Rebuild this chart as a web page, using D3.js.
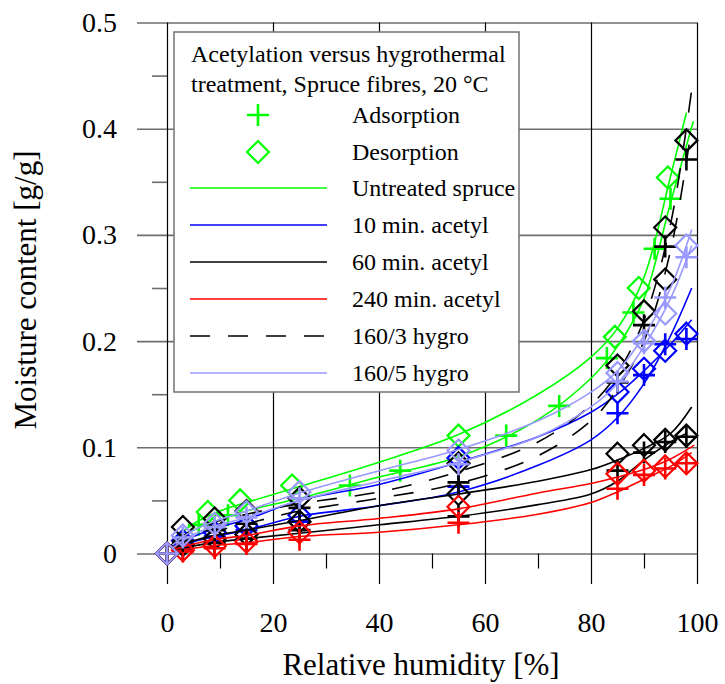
<!DOCTYPE html>
<html>
<head>
<meta charset="utf-8">
<script src="https://cdn.jsdelivr.net/npm/d3@7"></script>
<style>
  html, body { margin: 0; padding: 0; background: #fff; }
  svg { display: block; font-family: "Liberation Serif", "Times New Roman", serif; }
</style>
</head>
<body>
<svg id="chart" width="725" height="684"></svg>
<script>
// ---- Axis ticks ----
const xMajorTicks = [0, 20, 40, 60, 80, 100];
const xMinorTicks = [10, 30, 50, 70, 90];
const yMajorTicks = [0, 0.1, 0.2, 0.3, 0.4, 0.5];
const yMinorTicks = [0.05, 0.15, 0.25, 0.35, 0.45];

// ---- Measured points (RH %, moisture content g/g) ----
const rhTreated = [0, 3, 9, 15, 25, 55, 85, 90, 94, 98];

const untreatedAdsRH = [0, 6, 11.5, 34.5, 44, 64, 74, 83, 88, 92, 95];
const untreatedAds   = [0, 0.027, 0.036, 0.064, 0.078, 0.111, 0.139, 0.184, 0.227, 0.287, 0.334];
const untreatedDesRH = [7.7, 13.8, 23.6, 55, 84.5, 89, 94.5];
const untreatedDes   = [0.039, 0.050, 0.064, 0.111, 0.204, 0.250, 0.354];

const acetyl10Ads  = [0, 0.008, 0.016, 0.022, 0.030, 0.063, 0.132, 0.168, 0.197, 0.202];
const acetyl10Des  = [0, 0.012, 0.020, 0.026, 0.036, 0.090, 0.152, 0.174, 0.191, 0.207];
const acetyl60Ads  = [0, 0.005, 0.010, 0.014, 0.022, 0.035, 0.078, 0.095, 0.105, 0.110];
const acetyl60Des  = [0, 0.008, 0.014, 0.018, 0.030, 0.056, 0.094, 0.102, 0.107, 0.111];
const acetyl240Ads = [0, 0.002, 0.005, 0.009, 0.013, 0.029, 0.061, 0.074, 0.080, 0.085];
const acetyl240Des = [0, 0.003, 0.007, 0.011, 0.020, 0.044, 0.075, 0.078, 0.082, 0.085];
const hygro3Ads    = [0, 0.012, 0.022, 0.028, 0.043, 0.067, 0.161, 0.215, 0.289, 0.371];
const hygro3Des    = [0, 0.025, 0.033, 0.040, 0.052, 0.085, 0.177, 0.228, 0.307, 0.389];
const hygro3DesExtraRH = [94];
const hygro3DesExtra   = [0.258];
const hygro5Ads    = [0, 0.015, 0.025, 0.034, 0.052, 0.084, 0.162, 0.198, 0.241, 0.279];
const hygro5Des    = [0, 0.017, 0.028, 0.039, 0.058, 0.097, 0.170, 0.200, 0.226, 0.290];

// ---- Fitted isotherm curves ----
const rhFit = [1, 5, 10, 15, 25, 40, 55, 70, 80, 85, 90, 95];
const untreatedFitAds = [0.008, 0.022, 0.032, 0.040, 0.052, 0.072, 0.091, 0.126, 0.165, 0.195, 0.240, 0.330];
const untreatedFitDes = [0.012, 0.028, 0.040, 0.048, 0.063, 0.086, 0.112, 0.150, 0.185, 0.212, 0.260, 0.355];
const acetyl10FitAds  = [0.004, 0.011, 0.017, 0.022, 0.035, 0.045, 0.058, 0.083, 0.107, 0.128, 0.160, 0.205];
const acetyl10FitDes  = [0.006, 0.016, 0.025, 0.032, 0.050, 0.065, 0.086, 0.110, 0.133, 0.150, 0.172, 0.197];
const acetyl60FitAds  = [0.002, 0.007, 0.011, 0.014, 0.019, 0.027, 0.035, 0.046, 0.056, 0.068, 0.088, 0.105];
const acetyl60FitDes  = [0.004, 0.012, 0.018, 0.022, 0.031, 0.045, 0.056, 0.068, 0.079, 0.088, 0.099, 0.113];
const acetyl240FitAds = [0.002, 0.005, 0.008, 0.010, 0.016, 0.020, 0.027, 0.037, 0.048, 0.058, 0.070, 0.082];
const acetyl240FitDes = [0.003, 0.009, 0.014, 0.017, 0.026, 0.033, 0.042, 0.057, 0.066, 0.072, 0.079, 0.089];
const hygro3FitAds    = [0.006, 0.014, 0.022, 0.028, 0.040, 0.052, 0.066, 0.092, 0.125, 0.155, 0.200, 0.285];
const hygro3FitDes    = [0.010, 0.022, 0.031, 0.037, 0.047, 0.058, 0.077, 0.105, 0.140, 0.170, 0.220, 0.310];
const hygro5FitAds    = [0.005, 0.018, 0.027, 0.034, 0.050, 0.068, 0.086, 0.110, 0.138, 0.160, 0.195, 0.240];
const hygro5FitDes    = [0.008, 0.022, 0.032, 0.040, 0.057, 0.078, 0.098, 0.125, 0.152, 0.172, 0.205, 0.250];
// end points of each fitted curve near saturation [RH, MC]
const untreatedEndAds = [99.3, 0.407], untreatedEndDes = [98, 0.415];
const acetyl10EndAds  = [99, 0.250],  acetyl10EndDes  = [99, 0.220];
const acetyl60EndAds  = [98, 0.113],  acetyl60EndDes  = [99, 0.138];
const acetyl240EndAds = [99, 0.095],  acetyl240EndDes = [99.5, 0.102];
const hygro3EndAds    = [98.5, 0.385], hygro3EndDes   = [99, 0.437];
const hygro5EndAds    = [99, 0.290],  hygro5EndDes    = [99, 0.305];

// ---- Legend text ----
const legendTitle = ["Acetylation versus hygrothermal", "treatment, Spruce fibres, 20 °C"];
const seriesNames = ["Untreated spruce", "10 min. acetyl", "60 min. acetyl", "240 min. acetyl", "160/3 hygro", "160/5 hygro"];
const seriesColors = ["#00ff00", "#0000ff", "#000000", "#ff0000", "#000000", "#9999ff"];
const seriesDash = [null, null, null, null, "20,18", null];

// ---- Layout ----
const svg = d3.select("#chart");
const x = d3.scaleLinear().domain([0, 100]).range([167, 697]);
const y = d3.scaleLinear().domain([0, 0.5]).range([553.5, 22.5]);
const gridLeft = 137, gridBottom = 584;
const serif = "Liberation Serif, Times New Roman, serif";

// Horizontal gridlines with y labels
const yAxis = svg.append("g")
  .attr("transform", `translate(${gridLeft},0)`)
  .call(d3.axisLeft(y).tickValues(yMajorTicks)
    .tickSize(-(x(100) - gridLeft)).tickPadding(20)
    .tickFormat(d => d === 0 ? "0" : d3.format(".1f")(d)));
yAxis.select(".domain").remove();
yAxis.selectAll("line").attr("stroke", "#6e6e6e").attr("stroke-width", 1.6);
yAxis.selectAll("text").attr("font-size", 28).attr("fill", "#000").attr("font-family", serif);

// Minor y ticks
const yMinor = svg.append("g")
  .attr("transform", `translate(${x(0)},0)`)
  .call(d3.axisLeft(y).tickValues(yMinorTicks).tickSize(15).tickFormat(""));
yMinor.select(".domain").remove();
yMinor.selectAll("line").attr("stroke", "#6e6e6e").attr("stroke-width", 1.6);

// Vertical gridlines with x labels
const xAxis = svg.append("g")
  .attr("transform", `translate(0,${gridBottom})`)
  .call(d3.axisBottom(x).tickValues(xMajorTicks)
    .tickSize(-(gridBottom - y(0.5))).tickPadding(28));
xAxis.select(".domain").remove();
xAxis.selectAll("line").attr("stroke", "#000").attr("stroke-width", 1.2);
xAxis.selectAll("text").attr("font-size", 28).attr("fill", "#000").attr("font-family", serif);

// Minor x ticks
const xMinor = svg.append("g")
  .attr("transform", `translate(0,${y(0)})`)
  .call(d3.axisBottom(x).tickValues(xMinorTicks).tickSize(15).tickFormat(""));
xMinor.select(".domain").remove();
xMinor.selectAll("line").attr("stroke", "#000").attr("stroke-width", 1.2);

// Axis titles
svg.append("text")
  .attr("x", 421).attr("y", 675)
  .attr("text-anchor", "middle").attr("font-size", 31)
  .text("Relative humidity [%]");
svg.append("text")
  .attr("transform", "translate(36,290) rotate(-90)")
  .attr("text-anchor", "middle").attr("font-size", 31)
  .text("Moisture content [g/g]");

// ---- Series ----
const zip = (xs, ys) => xs.map((v, i) => [v, ys[i]]);
const series = [
  { fits: [[untreatedFitAds, untreatedEndAds], [untreatedFitDes, untreatedEndDes]],
    ads: zip(untreatedAdsRH, untreatedAds), des: zip(untreatedDesRH, untreatedDes) },
  { fits: [[acetyl10FitAds, acetyl10EndAds], [acetyl10FitDes, acetyl10EndDes]],
    ads: zip(rhTreated, acetyl10Ads), des: zip(rhTreated, acetyl10Des) },
  { fits: [[acetyl60FitAds, acetyl60EndAds], [acetyl60FitDes, acetyl60EndDes]],
    ads: zip(rhTreated, acetyl60Ads), des: zip(rhTreated, acetyl60Des) },
  { fits: [[acetyl240FitAds, acetyl240EndAds], [acetyl240FitDes, acetyl240EndDes]],
    ads: zip(rhTreated, acetyl240Ads), des: zip(rhTreated, acetyl240Des) },
  { fits: [[hygro3FitAds, hygro3EndAds], [hygro3FitDes, hygro3EndDes]],
    ads: zip(rhTreated, hygro3Ads),
    des: zip(rhTreated, hygro3Des).concat(zip(hygro3DesExtraRH, hygro3DesExtra)) },
  { fits: [[hygro5FitAds, hygro5EndAds], [hygro5FitDes, hygro5EndDes]],
    ads: zip(rhTreated, hygro5Ads), des: zip(rhTreated, hygro5Des) }
];

const line = d3.line().x(d => x(d[0])).y(d => y(d[1])).curve(d3.curveCatmullRom.alpha(0.5));
const plusPath = "M-11,0H11M0,-11V11";
const diamondPath = "M0,-11L11,0L0,11L-11,0Z";

const plot = svg.append("g");
series.forEach((s, i) => {
  const g = plot.append("g");
  s.fits.forEach(([vals, end]) => {
    g.append("path")
      .attr("d", line(zip(rhFit, vals).concat([end])))
      .attr("fill", "none")
      .attr("stroke", seriesColors[i])
      .attr("stroke-width", 1.6)
      .attr("stroke-dasharray", seriesDash[i]);
  });
  g.selectAll(".ads").data(s.ads).join("path")
    .attr("transform", d => `translate(${x(d[0])},${y(d[1])})`)
    .attr("d", plusPath).attr("fill", "none")
    .attr("stroke", seriesColors[i]).attr("stroke-width", 2.6);
  g.selectAll(".des").data(s.des).join("path")
    .attr("transform", d => `translate(${x(d[0])},${y(d[1])})`)
    .attr("d", diamondPath).attr("fill", "none")
    .attr("stroke", seriesColors[i]).attr("stroke-width", 2.2);
});

// ---- Legend ----
const legend = svg.append("g");
legend.append("rect")
  .attr("x", 174).attr("y", 32).attr("width", 345).attr("height", 360)
  .attr("fill", "#fff").attr("stroke", "#7a7a7a").attr("stroke-width", 1.6);
legendTitle.forEach((t, i) => {
  legend.append("text").attr("x", 191).attr("y", 62 + i * 29.5)
    .attr("font-size", 24).text(t);
});
legend.append("path").attr("transform", "translate(258,115)")
  .attr("d", plusPath).attr("fill", "none").attr("stroke", seriesColors[0]).attr("stroke-width", 2.6);
legend.append("text").attr("x", 352).attr("y", 123).attr("font-size", 24).text("Adsorption");
legend.append("path").attr("transform", "translate(258,152)")
  .attr("d", diamondPath).attr("fill", "none").attr("stroke", seriesColors[0]).attr("stroke-width", 2.2);
legend.append("text").attr("x", 352).attr("y", 160).attr("font-size", 24).text("Desorption");
seriesNames.forEach((name, i) => {
  const cy = 188 + i * 37;
  legend.append("line").attr("x1", 190).attr("x2", 327).attr("y1", cy).attr("y2", cy)
    .attr("stroke", seriesColors[i]).attr("stroke-width", 1.6)
    .attr("stroke-dasharray", seriesDash[i]);
  legend.append("text").attr("x", 352).attr("y", cy + 8).attr("font-size", 24).text(name);
});
</script>
</body>
</html>
